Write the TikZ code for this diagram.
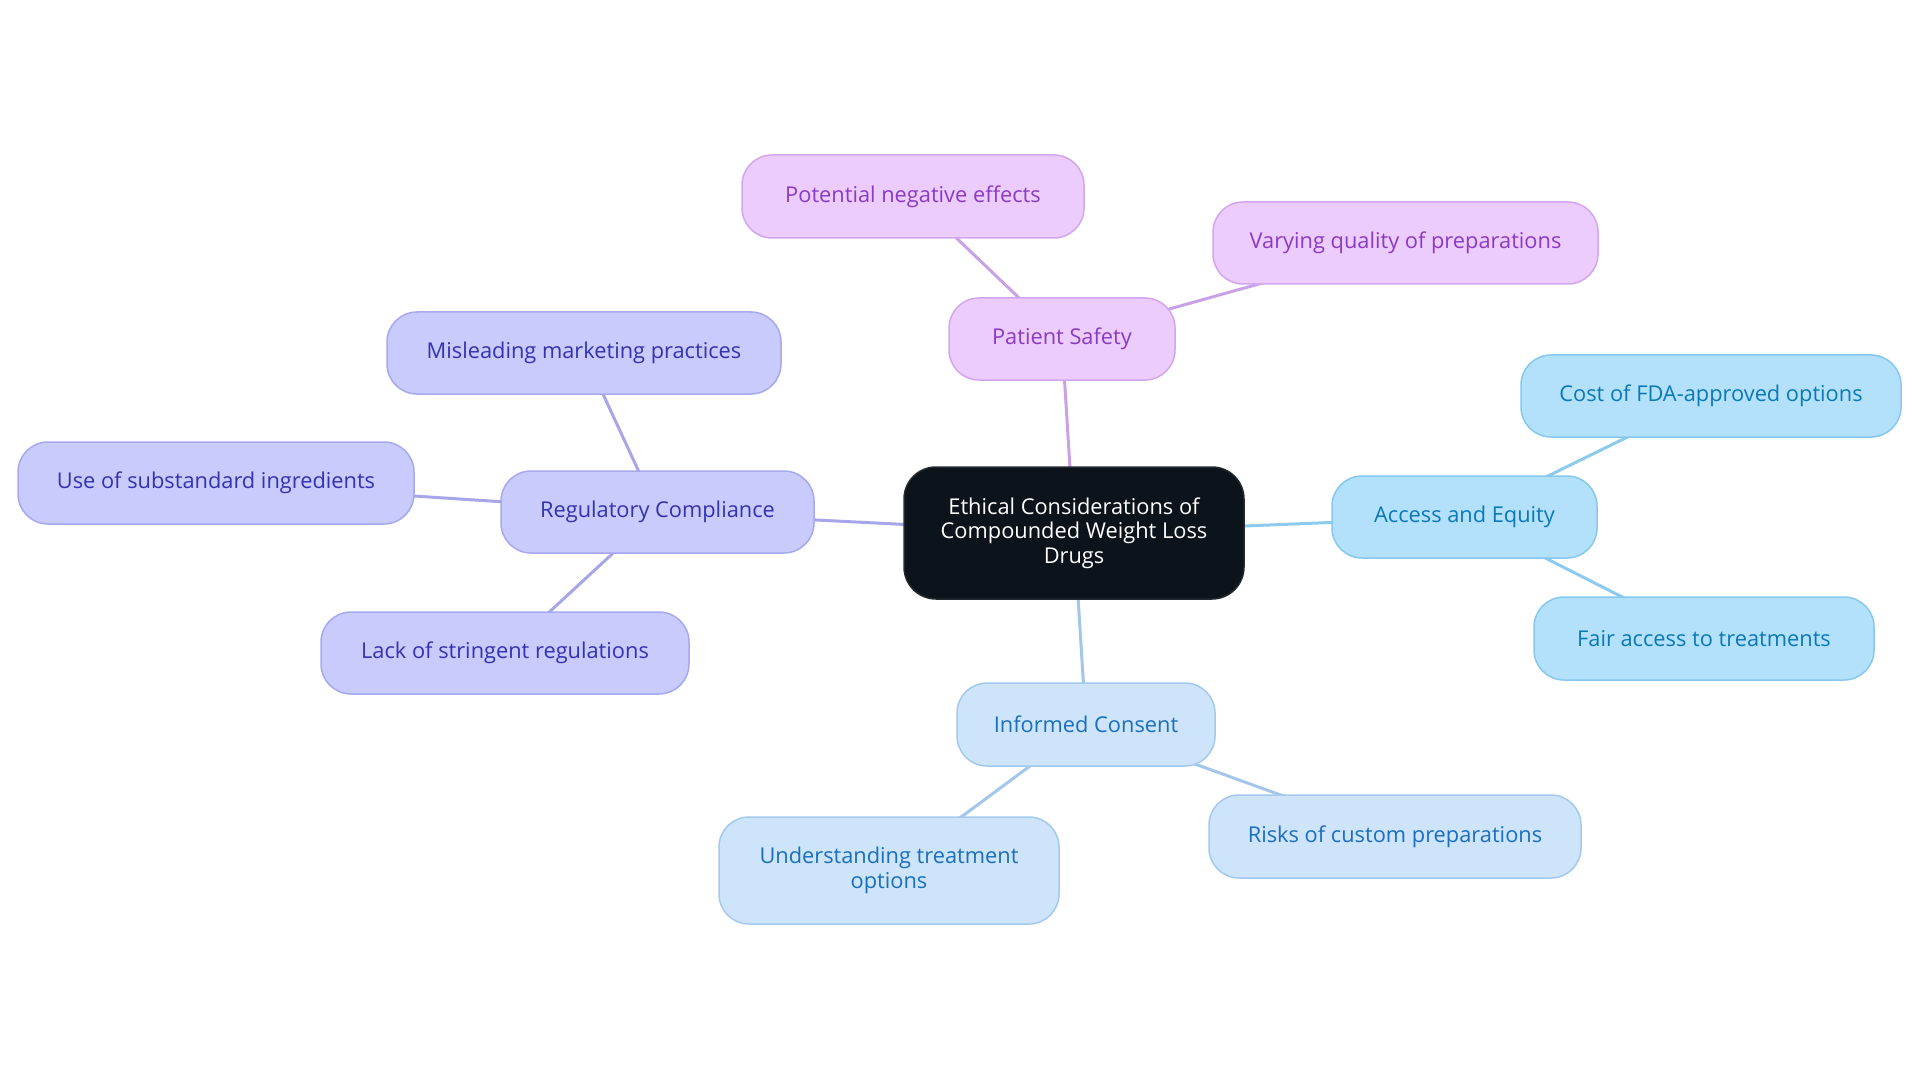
\documentclass[tikz,border=0pt]{standalone}
\usepackage{fontspec}
\setmainfont{Open Sans}
\usetikzlibrary{backgrounds}
\definecolor{pfill}{HTML}{ECCBFD}
\definecolor{pdraw}{HTML}{D3A6F0}
\definecolor{ptext}{HTML}{8A3BC4}
\definecolor{pedge}{HTML}{C9A2E6}
\definecolor{ifill}{HTML}{C8CBFC}
\definecolor{idraw}{HTML}{A6A9EE}
\definecolor{itext}{HTML}{3432B0}
\definecolor{iedge}{HTML}{A6A6E8}
\definecolor{lfill}{HTML}{B3E1FC}
\definecolor{ldraw}{HTML}{86C8F0}
\definecolor{ltext}{HTML}{0B78B8}
\definecolor{ledge}{HTML}{8CCBEE}
\definecolor{bfill}{HTML}{CDE4FB}
\definecolor{bdraw}{HTML}{A3CAEE}
\definecolor{btext}{HTML}{1A6FBE}
\definecolor{bedge}{HTML}{A3C6EA}
\definecolor{rootfill}{HTML}{0D131B}
\tikzset{
  pill/.style={rectangle, rounded corners=30pt, inner sep=0pt, line width=1.5pt,
    align=center, font=\fontsize{21.8}{24.5}\selectfont, minimum height=82pt},
  purplebox/.style={pill, fill=pfill, draw=pdraw, text=ptext},
  indigobox/.style={pill, fill=ifill, draw=idraw, text=itext},
  lightbox/.style={pill, fill=lfill, draw=ldraw, text=ltext},
  bluebox/.style={pill, fill=bfill, draw=bdraw, text=btext},
  rootbox/.style={pill, rounded corners=32pt, fill=rootfill, draw=rootfill!80!gray, text=white},
  link/.style={line width=3pt},
}
\begin{document}
\begin{tikzpicture}[x=1pt,y=-1pt]
\useasboundingbox (0,0) rectangle (1920,1083);
\node[rootbox, minimum width=340pt, minimum height=132pt] (root) at (1074,533) {Ethical Considerations of\\Compounded Weight Loss\\Drugs};
\node[purplebox, minimum width=226pt] (ps) at (1062,339) {Patient Safety};
\node[purplebox, minimum width=342pt, minimum height=83pt] (pne) at (913,196.5) {Potential negative effects};
\node[purplebox, minimum width=385pt] (vqp) at (1405.5,243) {Varying quality of preparations};
\node[indigobox, minimum width=313pt] (rc) at (657.5,512) {Regulatory Compliance};
\node[indigobox, minimum width=394pt] (mmp) at (584,353) {Misleading marketing practices};
\node[indigobox, minimum width=396pt] (usi) at (216,483) {Use of substandard ingredients};
\node[indigobox, minimum width=368pt] (lsr) at (505,653) {Lack of stringent regulations};
\node[lightbox, minimum width=265pt] (ae) at (1464.5,517) {Access and Equity};
\node[lightbox, minimum width=380pt] (cfo) at (1711,396) {Cost of FDA-approved options};
\node[lightbox, minimum width=340pt, minimum height=83pt] (fat) at (1704,638.5) {Fair access to treatments};
\node[bluebox, minimum width=258pt, minimum height=83pt] (ic) at (1086,724.5) {Informed Consent};
\node[bluebox, minimum width=340pt, minimum height=107pt] (uto) at (889,870.5) {Understanding treatment\\options};
\node[bluebox, minimum width=372pt, minimum height=83pt] (rcp) at (1395,836.5) {Risks of custom preparations};
\begin{scope}[on background layer]
\fill[white] (0,0) rectangle (1920,1083);
\draw[link, pedge] (root.center) -- (ps.center);
\draw[link, pedge] (ps.center) -- (pne.center);
\draw[link, pedge] (ps.center) -- (vqp.center);
\draw[link, iedge] (root.center) -- (rc.center);
\draw[link, iedge] (rc.center) -- (mmp.center);
\draw[link, iedge] (rc.center) -- (usi.center);
\draw[link, iedge] (rc.center) -- (lsr.center);
\draw[link, ledge] (root.center) -- (ae.center);
\draw[link, ledge] (ae.center) -- (cfo.center);
\draw[link, ledge] (ae.center) -- (fat.center);
\draw[link, bedge] (root.center) -- (ic.center);
\draw[link, bedge] (ic.center) -- (uto.center);
\draw[link, bedge] (ic.center) -- (rcp.center);
\end{scope}
\end{tikzpicture}
\end{document}
